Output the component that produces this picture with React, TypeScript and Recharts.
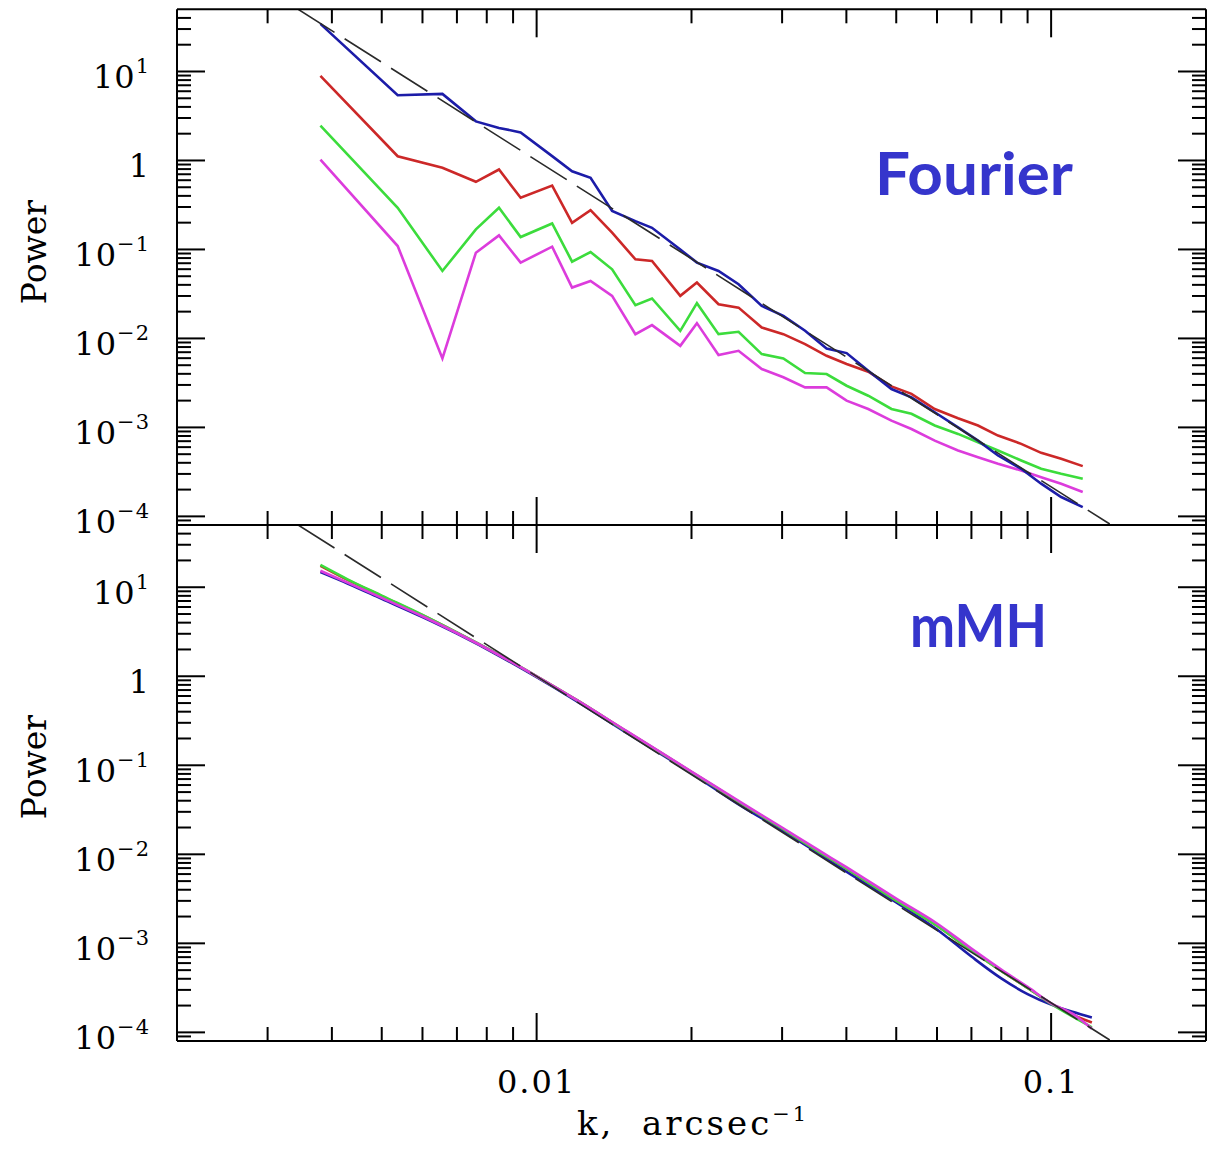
import React from "react";
import { LineChart, Line, XAxis, YAxis, Label } from "recharts";

// wavenumbers of the Fourier spectrum, arcsec^-1
const K_FOURIER = [
  0.0038, 0.00537, 0.00656, 0.00762, 0.00845, 0.00931, 0.01072, 0.01172,
  0.01273, 0.01402, 0.01556, 0.01676, 0.01902, 0.02049, 0.02257, 0.02469,
  0.02739, 0.03017, 0.03325, 0.03661, 0.04004, 0.04411, 0.04894, 0.05352,
  0.0594, 0.06592, 0.07209, 0.07884, 0.08747, 0.09564, 0.1046, 0.1152,
];
const FOURIER_BLUE = [
  34.3, 5.4, 5.6, 2.75, 2.32, 2.07, 1.12, 0.757, 0.638, 0.27, 0.208, 0.175,
  0.1, 0.0711, 0.0573, 0.0406, 0.0232, 0.0179, 0.0122, 0.0077, 0.00684,
  0.00433, 0.0027, 0.00218, 0.00148, 0.001, 0.00071, 0.000483, 0.000343,
  0.000233, 0.000165, 0.000127,
];
const FOURIER_RED = [
  8.95, 1.115, 0.826, 0.576, 0.791, 0.3805, 0.523, 0.1995, 0.2767, 0.1542,
  0.0774, 0.0741, 0.0301, 0.0425, 0.0242, 0.0222, 0.01327, 0.01117, 0.00863,
  0.00638, 0.00515, 0.00422, 0.00289, 0.00238, 0.00161, 0.00127, 0.00105,
  0.00081, 0.000653, 0.000518, 0.000443, 0.000367,
];
const FOURIER_GREEN = [
  2.46, 0.294, 0.0573, 0.168, 0.294, 0.1378, 0.196, 0.0729, 0.0936, 0.0598,
  0.0236, 0.0281, 0.01216, 0.0249, 0.01117, 0.01186, 0.00667, 0.00597,
  0.00408, 0.00398, 0.00294, 0.00227, 0.00161, 0.00142, 0.00105, 0.000845,
  0.000682, 0.00055, 0.000425, 0.000343, 0.000301, 0.000265,
];
const FOURIER_MAGENTA = [
  1.023, 0.1093, 0.00596, 0.092, 0.1438, 0.0711, 0.1074, 0.0373, 0.0443,
  0.0301, 0.01117, 0.0141, 0.00826, 0.01485, 0.0065, 0.00726, 0.00453,
  0.00366, 0.00282, 0.00282, 0.002, 0.00161, 0.00119, 0.00096, 0.00071,
  0.00055, 0.000463, 0.00039, 0.000328, 0.000276, 0.000233, 0.000188,
];

// mMH spectrum
const K_MMH = [
  0.0038, 0.0043, 0.005, 0.006, 0.007, 0.0085, 0.01, 0.012, 0.015, 0.02,
  0.025, 0.03, 0.035, 0.04, 0.05, 0.06, 0.07, 0.08, 0.09, 0.1, 0.11, 0.12,
];
const MMH_BLUE = [
  14.8, 10.96, 7.41, 4.62, 3.01, 1.667, 0.977, 0.519, 0.229, 0.0813, 0.0347,
  0.01858, 0.01057, 0.0064, 0.00288, 0.00143, 0.00071, 0.000404, 0.000269,
  0.000205, 0.00017, 0.000147,
];
const MMH_RED = [
  17.4, 12.0, 7.94, 4.84, 3.09, 1.706, 1.0, 0.535, 0.237, 0.0841, 0.0372,
  0.0195, 0.0111, 0.00692, 0.00302, 0.00158, 0.000832, 0.00049, 0.000316,
  0.000211, 0.000158, 0.000129,
];
const MMH_GREEN = [
  17.8, 12.2, 8.04, 4.88, 3.1, 1.71, 1.0, 0.535, 0.237, 0.0841, 0.0372,
  0.0195, 0.0111, 0.00692, 0.00302, 0.00158, 0.000832, 0.00049, 0.000316,
  0.000209, 0.000151, 0.000114,
];
const MMH_MAGENTA = [
  15.3, 11.2, 7.59, 4.72, 3.06, 1.7, 1.0, 0.537, 0.24, 0.0851, 0.038, 0.02,
  0.01148, 0.00716, 0.00318, 0.00167, 0.000873, 0.000508, 0.000324, 0.000212,
  0.000162, 0.00011,
];

// dashed k^(-11/3) reference line, end points
const REF_K = [0.00344, 0.13];
const REF_P = [50, 8.2e-5];

const X_DOMAIN: [number, number] = [0.002, 0.2];
const Y_DOMAIN: [number, number] = [8e-5, 50];
const X_TICKS = [
  0.003, 0.004, 0.005, 0.006, 0.007, 0.008, 0.009, 0.01, 0.02, 0.03, 0.04,
  0.05, 0.06, 0.07, 0.08, 0.09, 0.1,
];
const X_TICK_LABELS: Record<string, string> = { "0.01": "0.01", "0.1": "0.1" };
const MANTISSAS = [1, 2, 3, 4, 5, 6, 7, 8, 9];
const Y_TICKS = [-5, -4, -3, -2, -1, 0, 1]
  .flatMap((e) => MANTISSAS.map((m) => +(m * Math.pow(10, e)).toPrecision(3)))
  .filter((v) => v > 8.5e-5 && v < 45);
// exponent -> [base, superscript]
const Y_TICK_LABELS: Record<number, [string, string]> = {
  1: ["10", "1"],
  0: ["1", ""],
  [-1]: ["10", "\u22121"],
  [-2]: ["10", "\u22122"],
  [-3]: ["10", "\u22123"],
  [-4]: ["10", "\u22124"],
};

const COLORS = {
  blue: "#1c1ca8",
  red: "#cc2828",
  green: "#3cdc3c",
  magenta: "#dc3cdc",
  ref: "#2a2a2a",
  title: "#3535cc",
};
const SERIF = "'DejaVu Serif', serif";

const pts = (ks: number[], ps: number[]) => ks.map((k, i) => ({ k, p: ps[i] }));
const isDecade = (v: number) =>
  Math.abs(Math.log10(v) - Math.round(Math.log10(v))) < 1e-6;

function xTick(dir: number, withLabels: boolean) {
  return (props: any) => {
    const { x, y, payload } = props;
    const v = payload.value as number;
    const major = isDecade(v);
    const label = withLabels ? X_TICK_LABELS[String(v)] : undefined;
    return (
      <g>
        <line x1={x} y1={y} x2={x} y2={y + dir * (major ? 28 : 14)} stroke="#000" strokeWidth={2} />
        {label && (
          <text x={x} y={y + 52} textAnchor="middle" fontFamily={SERIF} fontSize={32} letterSpacing={2} fill="#000">
            {label}
          </text>
        )}
      </g>
    );
  };
}

function yTick(dir: number, withLabels: boolean) {
  return (props: any) => {
    const { x, y, payload } = props;
    const v = payload.value as number;
    const major = isDecade(v);
    const lab = withLabels && major ? Y_TICK_LABELS[Math.round(Math.log10(v))] : undefined;
    return (
      <g>
        <line x1={x} y1={y} x2={x + dir * (major ? 28 : 14)} y2={y} stroke="#000" strokeWidth={2} />
        {lab && (
          <text x={x - 27} y={y + 17} textAnchor="end" fontFamily={SERIF} fontSize={32} letterSpacing={1} fill="#000">
            {lab[0]}
            {lab[1] && (
              <tspan dy={-15} fontSize={21}>
                {lab[1]}
              </tspan>
            )}
          </text>
        )}
      </g>
    );
  };
}

const axisLine = { stroke: "#000", strokeWidth: 2 };

function PowerTitle({ cy }: { cy: number }) {
  return (
    <text x={46} y={cy} transform={`rotate(-90, 46, ${cy})`} textAnchor="middle" fontFamily={SERIF} fontSize={33} fill="#000">
      Power
    </text>
  );
}

function PanelTitle({ x, y, text, width }: { x: number; y: number; text: string; width: number }) {
  return (
    <text x={x} y={y} fontFamily="Lato, 'DejaVu Sans', sans-serif" fontWeight={700} fontSize={60} fill={COLORS.title} textLength={width} lengthAdjust="spacingAndGlyphs">
      {text}
    </text>
  );
}

export default function App() {
  const ref = pts(REF_K, REF_P);
  const seriesProps = {
    xAxisId: "b",
    yAxisId: "l",
    dataKey: "p",
    dot: false,
    isAnimationActive: false,
    strokeWidth: 2.6,
  } as const;

  return (
    <div style={{ position: "absolute", left: 0, top: 0, width: 1207, height: 1151, background: "#fff" }}>
      {/* Fourier panel */}
      <div style={{ position: "absolute", left: 0, top: 0 }}>
        <LineChart width={1207} height={560} margin={{ top: 8.3, right: 0, bottom: 34, left: 0 }}>
          <XAxis xAxisId="b" orientation="bottom" type="number" dataKey="k" scale="log" domain={X_DOMAIN} allowDataOverflow ticks={X_TICKS} interval={0} height={1} tickSize={0} tickMargin={0} tickLine={false} axisLine={axisLine} tick={xTick(-1, false)} />
          <XAxis xAxisId="t" orientation="top" type="number" dataKey="k" scale="log" domain={X_DOMAIN} allowDataOverflow ticks={X_TICKS} interval={0} height={1} tickSize={0} tickMargin={0} tickLine={false} axisLine={axisLine} tick={xTick(1, false)}>
            <Label content={() => <PanelTitle x={875} y={195} text="Fourier" width={198} />} />
          </XAxis>
          <YAxis yAxisId="l" orientation="left" type="number" scale="log" domain={Y_DOMAIN} allowDataOverflow ticks={Y_TICKS} interval={0} width={177} tickSize={0} tickMargin={0} tickLine={false} axisLine={axisLine} tick={yTick(1, true)}>
            <Label content={() => <PowerTitle cy={252} />} />
          </YAxis>
          <YAxis yAxisId="r" orientation="right" type="number" scale="log" domain={Y_DOMAIN} allowDataOverflow ticks={Y_TICKS} interval={0} width={1} tickSize={0} tickMargin={0} tickLine={false} axisLine={axisLine} tick={yTick(-1, false)} />
          <Line {...seriesProps} data={pts(K_FOURIER, FOURIER_MAGENTA)} stroke={COLORS.magenta} type="linear" />
          <Line {...seriesProps} data={pts(K_FOURIER, FOURIER_GREEN)} stroke={COLORS.green} type="linear" />
          <Line {...seriesProps} data={pts(K_FOURIER, FOURIER_RED)} stroke={COLORS.red} type="linear" />
          <Line {...seriesProps} data={pts(K_FOURIER, FOURIER_BLUE)} stroke={COLORS.blue} type="linear" />
          <Line {...seriesProps} data={ref} stroke={COLORS.ref} strokeWidth={1.6} strokeDasharray="43 12" type="linear" />
        </LineChart>
      </div>

      {/* mMH panel */}
      <div style={{ position: "absolute", left: 0, top: 0 }}>
        <LineChart width={1207} height={1151} margin={{ top: 524, right: 0, bottom: 1, left: 0 }}>
          <XAxis xAxisId="b" orientation="bottom" type="number" dataKey="k" scale="log" domain={X_DOMAIN} allowDataOverflow ticks={X_TICKS} interval={0} height={109} tickSize={0} tickMargin={0} tickLine={false} axisLine={axisLine} tick={xTick(-1, true)}>
            <Label
              content={() => (
                <text x={577} y={1135} fontFamily={SERIF} fontSize={34} letterSpacing={3} fill="#000">
                  {"k,\u00a0 arcsec"}
                  <tspan dy={-14} fontSize={21}>
                    {"\u22121"}
                  </tspan>
                </text>
              )}
            />
          </XAxis>
          <XAxis xAxisId="t" orientation="top" type="number" dataKey="k" scale="log" domain={X_DOMAIN} allowDataOverflow ticks={X_TICKS} interval={0} height={1} tickSize={0} tickMargin={0} tickLine={false} axisLine={axisLine} tick={xTick(1, false)}>
            <Label content={() => <PanelTitle x={910} y={647} text="mMH" width={137} />} />
          </XAxis>
          <YAxis yAxisId="l" orientation="left" type="number" scale="log" domain={Y_DOMAIN} allowDataOverflow ticks={Y_TICKS} interval={0} width={177} tickSize={0} tickMargin={0} tickLine={false} axisLine={axisLine} tick={yTick(1, true)}>
            <Label content={() => <PowerTitle cy={767} />} />
          </YAxis>
          <YAxis yAxisId="r" orientation="right" type="number" scale="log" domain={Y_DOMAIN} allowDataOverflow ticks={Y_TICKS} interval={0} width={1} tickSize={0} tickMargin={0} tickLine={false} axisLine={axisLine} tick={yTick(-1, false)} />
          <Line {...seriesProps} data={pts(K_MMH, MMH_BLUE)} stroke={COLORS.blue} type="monotone" />
          <Line {...seriesProps} data={pts(K_MMH, MMH_RED)} stroke={COLORS.red} type="monotone" />
          <Line {...seriesProps} data={pts(K_MMH, MMH_GREEN)} stroke={COLORS.green} type="monotone" />
          <Line {...seriesProps} data={pts(K_MMH, MMH_MAGENTA)} stroke={COLORS.magenta} type="monotone" />
          <Line {...seriesProps} data={ref} stroke={COLORS.ref} strokeWidth={1.6} strokeDasharray="43 12" type="linear" />
        </LineChart>
      </div>
    </div>
  );
}
